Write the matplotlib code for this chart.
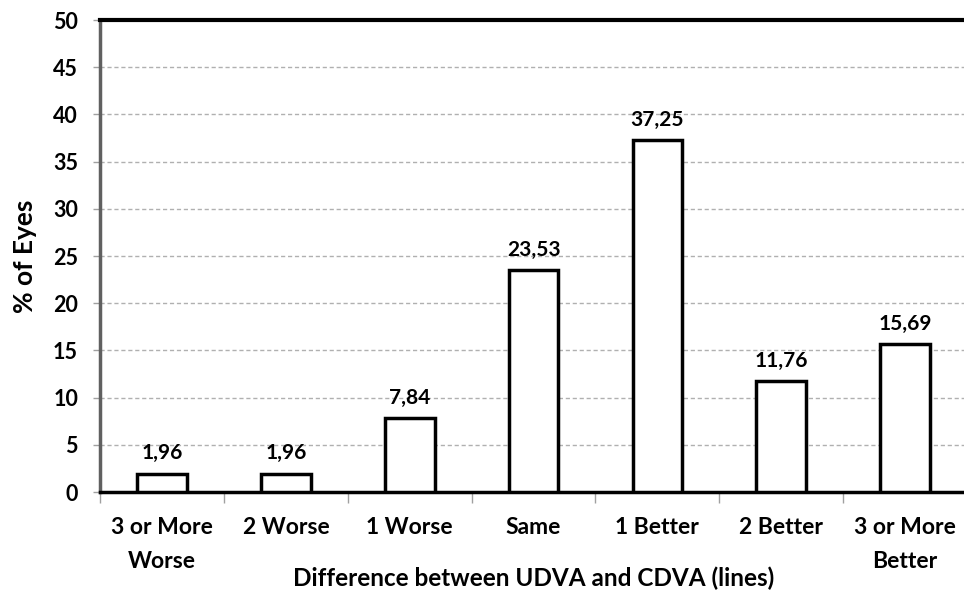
import numpy as np
import matplotlib
matplotlib.use("Agg")
import matplotlib.pyplot as plt

categories = ["3 or More\nWorse", "2 Worse", "1 Worse", "Same", "1 Better", "2 Better", "3 or More\nBetter"]
values = [1.96, 1.96, 7.84, 23.53, 37.25, 11.76, 15.69]
value_labels = ["1,96", "1,96", "7,84", "23,53", "37,25", "11,76", "15,69"]

plt.rcParams['font.family'] = ['Lato', 'DejaVu Sans']
plt.rcParams['font.weight'] = 'bold'

fig = plt.figure(figsize=(9.64, 5.9), dpi=100)
ax = fig.add_axes([0.104, 0.166, 0.899, 0.800])

x = np.arange(len(categories))
ax.bar(x, values, width=0.4, color="white", edgecolor="black", linewidth=2.5, zorder=3)

for xi, v, lab in zip(x, values, value_labels):
    ax.text(xi, v + 1.1, lab, ha="center", va="bottom", fontsize=15, fontweight="bold")

ax.set_xlim(-0.5, len(categories) - 0.5)
ax.set_ylim(0, 50)
ax.set_yticks(np.arange(0, 51, 5))
ax.yaxis.grid(True, color="#b0b0b0", linestyle=(0, (3, 2)), linewidth=1)
ax.set_axisbelow(True)

ax.set_xticks(x)
ax.set_xticklabels(categories, fontsize=16.5, fontweight="bold", linespacing=1.75)
ax.set_xticks(np.arange(-0.5, len(categories)), minor=True)
ax.tick_params(axis="x", which="major", length=0, pad=18)
ax.tick_params(axis="x", which="minor", length=8, width=1, color="#a0a0a0", direction="out")
ax.tick_params(axis="y", length=5, width=1, color="#a0a0a0", labelsize=15.5, pad=11)
for t in ax.get_yticklabels():
    t.set_fontweight("bold")

ax.spines["right"].set_visible(False)
ax.spines["top"].set_linewidth(3)
ax.spines["top"].set_color("black")
ax.spines["left"].set_linewidth(2.5)
ax.spines["left"].set_color("#606060")
ax.spines["bottom"].set_linewidth(2.5)
ax.spines["bottom"].set_color("black")

ax.set_ylabel("% of Eyes", fontsize=19, fontweight="bold")
ax.yaxis.set_label_coords(-0.073, 0.5)
ax.set_xlabel("Difference between UDVA and CDVA (lines)", fontsize=17.5, fontweight="bold")
ax.xaxis.set_label_coords(0.5, -0.158)

fig.savefig("out.png", dpi=100)
